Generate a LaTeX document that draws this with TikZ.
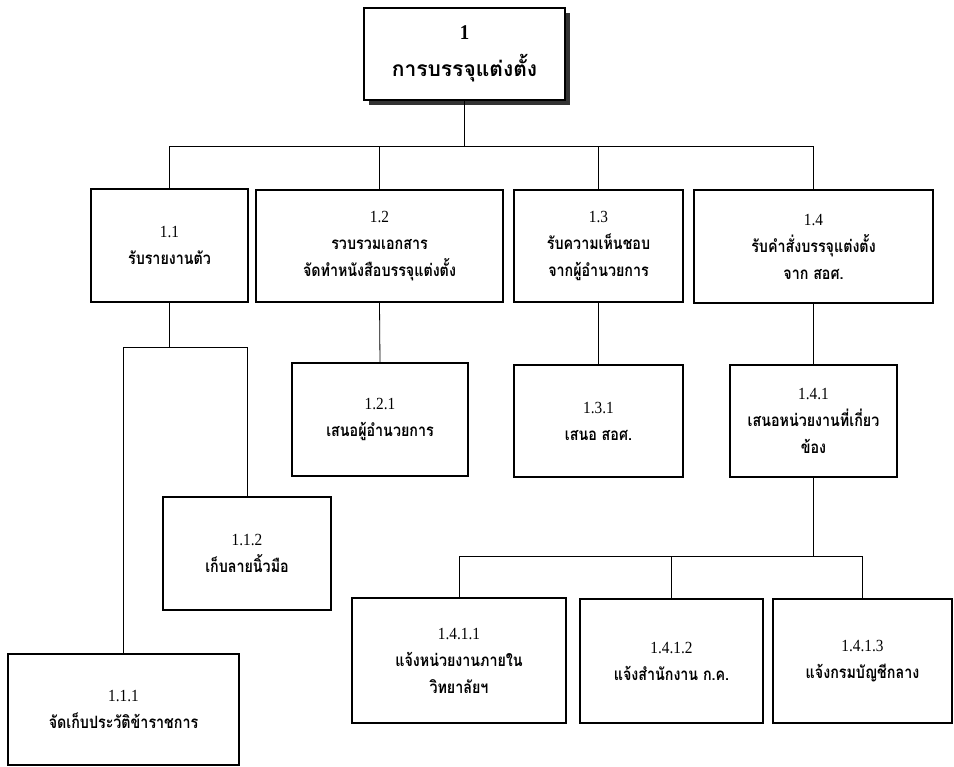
\documentclass[tikz,border=0pt]{standalone}
\usepackage{fontspec}
\newfontfamily\thai[Script=Thai]{Loma}
\newfontfamily\thainarrow[Script=Thai, FakeStretch=0.84]{Loma}
\newfontfamily\numfont[FakeStretch=0.9]{Liberation Serif}
\usetikzlibrary{shadows}
\begin{document}
\begin{tikzpicture}[x=1pt,y=-1pt,
  box/.style={draw, fill=white, line width=1.1pt, inner sep=0pt, align=center,
    font=\thainarrow\bfseries\fontsize{17}{27}\selectfont},
  topbox/.style={box, font=\thai\bfseries\fontsize{21}{40}\selectfont,
    drop shadow={shadow xshift=5pt, shadow yshift=-5pt, fill=black!80, opacity=1}},
  wire/.style={line width=0.8pt}]
\useasboundingbox (0,0) rectangle (954,767);

% root
\node[topbox, minimum width=201pt, minimum height=92pt] (n1) at (464.5,54)
  {\raisebox{-3pt}{\numfont\bfseries 1}\\การบรรจุแต่งตั้ง};

% first level
\node[box, minimum width=157pt, minimum height=113pt] (n11) at (169.5,245.5)
  {{\numfont\mdseries 1.1}\\รับรายงานตัว};
\node[box, minimum width=247pt, minimum height=112pt] (n12) at (379.5,246)
  {{\numfont\mdseries 1.2}\\รวบรวมเอกสาร\\จัดทำหนังสือบรรจุแต่งตั้ง};
\node[box, minimum width=169pt, minimum height=112pt] (n13) at (598.5,246)
  {{\numfont\mdseries 1.3}\\รับความเห็นชอบ\\จากผู้อำนวยการ};
\node[box, minimum width=239pt, minimum height=113pt] (n14) at (813.5,246.5)
  {{\numfont\mdseries 1.4}\\รับคำสั่งบรรจุแต่งตั้ง\\จาก สอศ.};

% second level
\node[box, minimum width=176pt, minimum height=113pt] (n121) at (380,419.5)
  {{\numfont\mdseries 1.2.1}\\เสนอผู้อำนวยการ};
\node[box, minimum width=169pt, minimum height=112pt] (n131) at (598.5,421)
  {{\numfont\mdseries 1.3.1}\\เสนอ สอศ.};
\node[box, minimum width=167pt, minimum height=112pt] (n141) at (813.5,421)
  {{\numfont\mdseries 1.4.1}\\เสนอหน่วยงานที่เกี่ยว\\ข้อง};
\node[box, minimum width=168pt, minimum height=113pt] (n112) at (247,553.5)
  {{\numfont\mdseries 1.1.2}\\เก็บลายนิ้วมือ};
\node[box, minimum width=231pt, minimum height=111pt] (n111) at (123.5,709.5)
  {{\numfont\mdseries 1.1.1}\\จัดเก็บประวัติข้าราชการ};

% third level
\node[box, minimum width=214pt, minimum height=125pt] (n1411) at (459,660.5)
  {{\numfont\mdseries 1.4.1.1}\\แจ้งหน่วยงานภายใน\\วิทยาลัยฯ};
\node[box, minimum width=183pt, minimum height=124pt] (n1412) at (671.5,661)
  {{\numfont\mdseries 1.4.1.2}\\แจ้งสำนักงาน ก.ค.};
\node[box, minimum width=179pt, minimum height=124pt] (n1413) at (862.5,661)
  {{\numfont\mdseries 1.4.1.3}\\แจ้งกรมบัญชีกลาง};

% branching points
\coordinate (b1) at (464.5,146);
\coordinate (b11) at (169.5,347);
\coordinate (b141) at (813.5,556);

% connectors
\draw[wire] (n1.south) -- (b1);
\draw[wire] (b1) -| (n11.north);
\draw[wire] (b1) -| (n12.north);
\draw[wire] (b1) -| (n13.north);
\draw[wire] (b1) -| (n14.north);

\draw[wire] (n11.south) -- (b11);
\draw[wire] (b11) -| (n111.north);
\draw[wire] (b11) -| (n112.north);

\draw[wire] (n12.south) -- (n121.north);
\draw[wire] (n13.south) -- (n131.north);
\draw[wire] (n14.south) -- (n141.north);

\draw[wire] (n141.south) -- (b141);
\draw[wire] (b141) -| (n1411.north);
\draw[wire] (b141) -| (n1412.north);
\draw[wire] (b141) -| (n1413.north);
\end{tikzpicture}
\end{document}
